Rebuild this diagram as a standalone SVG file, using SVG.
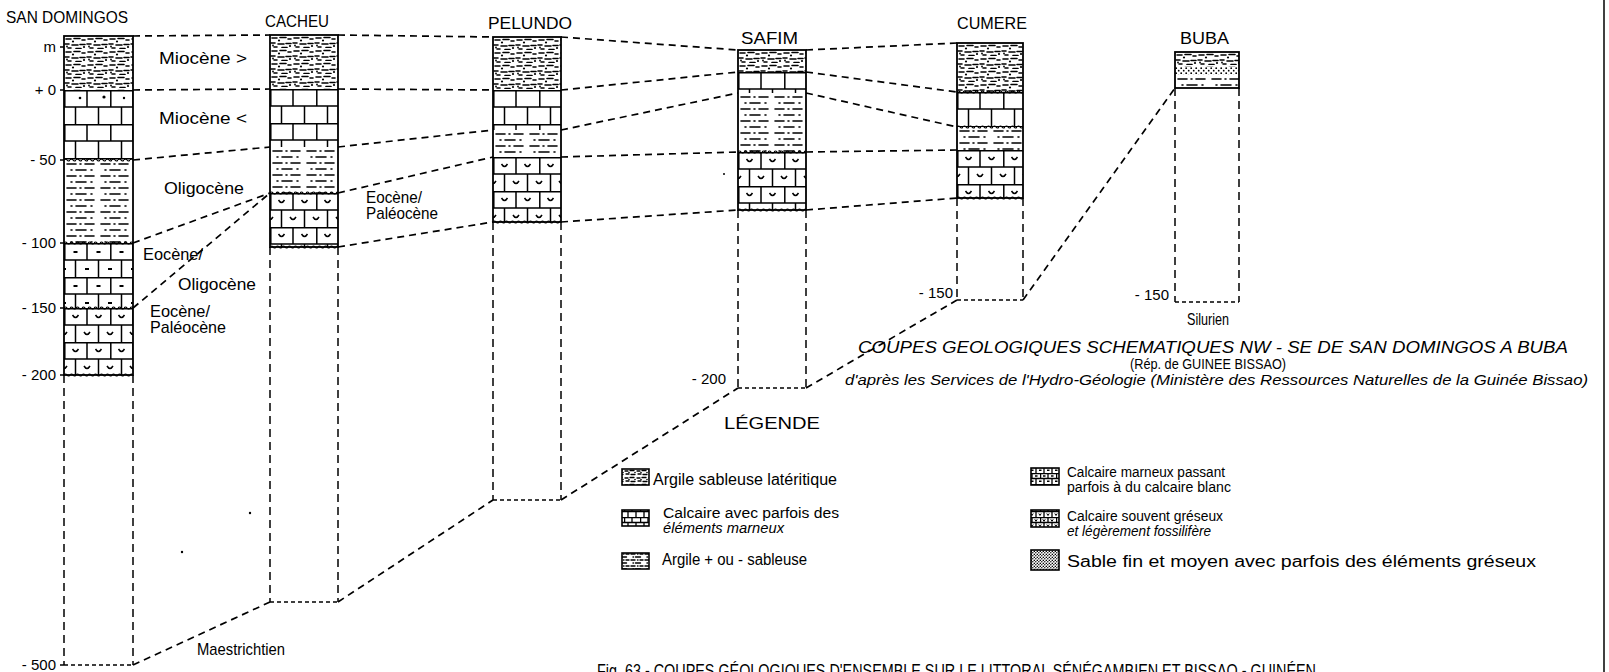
<svg xmlns="http://www.w3.org/2000/svg" width="1609" height="672" viewBox="0 0 1609 672">
  <style>
    .t { font-family: "Liberation Sans", Arial, sans-serif; fill: #000; }
    .h { font-size: 17px; }
    .lab { font-size: 17px; }
    .tk { font-size: 15px; text-anchor: end; }
    .lg { font-size: 16px; }
    .lg2 { font-size: 14px; }
    .it { font-style: italic; }
    .box { fill: none; stroke: #000; stroke-width: 1.8; }
    .ibox { fill: none; stroke: #000; stroke-width: 1.6; }
    .ln { fill: none; stroke: #000; stroke-width: 1.5; }
    .dl { fill: none; stroke: #000; stroke-width: 1.7; stroke-dasharray: 7 5; }
    .ext { fill: none; stroke: #000; stroke-width: 1.5; stroke-dasharray: 8 5; }
    .bot { fill: none; stroke: #000; stroke-width: 1.5; stroke-dasharray: 4 3; }
  </style>
  <defs>
    <!-- argile sableuse latéritique -->
    <pattern id="lat" width="22" height="13" patternUnits="userSpaceOnUse">
      <path d="M2,3h5M10,2.5h6M18,4h3M1,8h4M8,9h6M16,8.5h5M4,12h3M12,12.5h5" stroke="#000" stroke-width="1.6" stroke-linecap="round" fill="none"/>
      <circle cx="9" cy="5.5" r="1.1"/><circle cx="20" cy="11" r="1.1"/><circle cx="3" cy="10.5" r="0.9"/>
    </pattern>
    <!-- calcaire -->
    <pattern id="calc" width="46" height="34" patternUnits="userSpaceOnUse">
      <path d="M0,0.8H46M0,17H46M0.8,0V17M23,0V17M11.5,17V34M34.5,17V34" stroke="#000" stroke-width="1.5" fill="none"/>
    </pattern>
    <!-- calcaire marneux -->
    <pattern id="marn" width="46" height="34" patternUnits="userSpaceOnUse">
      <path d="M0,0.8H46M0,17H46M0.8,0V17M23,0V17M11.5,17V34M34.5,17V34" stroke="#000" stroke-width="1.5" fill="none"/>
      <path d="M9.5,9h4M32.5,9h4M-2,26h4M21,26h4M44,26h4" stroke="#000" stroke-width="2.2" fill="none"/>
    </pattern>
    <!-- calcaire gréseux fossilifère -->
    <pattern id="gres" width="46" height="34" patternUnits="userSpaceOnUse">
      <path d="M0,0.8H46M0,17H46M0.8,0V17M23,0V17M11.5,17V34M34.5,17V34" stroke="#000" stroke-width="1.5" fill="none"/>
      <path d="M8.5,7q3,5 6,0M31.5,7q3,5 6,0M-3,24q3,5 6,0M20,24q3,5 6,0M43,24q3,5 6,0" stroke="#000" stroke-width="1.5" fill="none"/>
    </pattern>
    <!-- argile + ou - sableuse -->
    <pattern id="arg" width="34" height="12" patternUnits="userSpaceOnUse">
      <path d="M3,4h9M16,4h1M21,4h9M7,10h1M12,10h10M27,10h1" stroke="#000" stroke-width="1.6" stroke-linecap="round" fill="none"/>
    </pattern>
    <!-- sable fin et moyen -->
    <pattern id="sab" width="5" height="5" patternUnits="userSpaceOnUse">
      <circle cx="1.2" cy="1.2" r="0.9"/><circle cx="3.7" cy="3.7" r="0.9"/>
    </pattern>
    <!-- limite ondulée -->
    <pattern id="wave" width="6" height="4" patternUnits="userSpaceOnUse">
      <path d="M0,2q1.5,-2 3,0t3,0" stroke="#000" stroke-width="1.2" fill="none"/>
    </pattern>

    <!-- small versions for the legend swatches -->
    <pattern id="lat-s" width="12" height="7" patternUnits="userSpaceOnUse">
      <path d="M1,2h3M6,1.5h4M2,5h3M7,5.5h4" stroke="#000" stroke-width="1.3" stroke-linecap="round" fill="none"/>
      <circle cx="5" cy="3.5" r="0.8"/><circle cx="11" cy="3.5" r="0.8"/>
    </pattern>
    <pattern id="calc-s" width="16" height="11" patternUnits="userSpaceOnUse">
      <path d="M0,0.6H16M0,5.5H16M0.6,0V5.5M8,0V5.5M4,5.5V11M12,5.5V11" stroke="#000" stroke-width="1.3" fill="none"/>
    </pattern>
    <pattern id="marn-s" width="16" height="11" patternUnits="userSpaceOnUse">
      <path d="M0,0.6H16M0,5.5H16M0.6,0V5.5M8,0V5.5M4,5.5V11M12,5.5V11" stroke="#000" stroke-width="1.3" fill="none"/>
      <path d="M3,3h2.5M11,3h2.5M-1,8.3h2.5M7,8.3h2.5M15,8.3h2.5" stroke="#000" stroke-width="1.6" fill="none"/>
    </pattern>
    <pattern id="gres-s" width="16" height="11" patternUnits="userSpaceOnUse">
      <path d="M0,0.6H16M0,5.5H16M0.6,0V5.5M8,0V5.5M4,5.5V11M12,5.5V11" stroke="#000" stroke-width="1.3" fill="none"/>
      <path d="M2.8,2.3l1.2,2l1.2,-2M10.8,2.3l1.2,2l1.2,-2M-1.2,7.5l1.2,2l1.2,-2M6.8,7.5l1.2,2l1.2,-2M14.8,7.5l1.2,2l1.2,-2" stroke="#000" stroke-width="1" fill="none"/>
    </pattern>
    <pattern id="arg-s" width="14" height="6" patternUnits="userSpaceOnUse">
      <path d="M1,2h4M7.5,2h0.5M10,2h3M3,5h0.5M5.5,5h5" stroke="#000" stroke-width="1.4" stroke-linecap="round" fill="none"/>
    </pattern>
    <pattern id="sab-s" width="3" height="3" patternUnits="userSpaceOnUse">
      <circle cx="0.8" cy="0.8" r="0.75"/><circle cx="2.3" cy="2.3" r="0.75"/>
    </pattern>
  </defs>

  <!-- correlation lines -->
  <g id="connectors">
    <path class="dl" d="M133,36L270,35M338,35L493,37M561,37L738,50M806,50L957,43"/>
    <path class="dl" d="M133,90L270,89M338,89L493,90M561,90L738,72M806,72L957,92"/>
    <path class="dl" d="M133,160L270,147M338,147L493,130M561,130L738,93M806,93L957,127"/>
    <path class="dl" d="M133,243L270,193M133,308L270,193M338,193L493,157M561,157L738,152M806,152L957,150"/>
    <path class="dl" d="M338,247L493,222M561,222L738,210M806,210L957,198"/>
    <path class="dl" d="M133,665L270,602M338,602L493,500M561,500L738,388M806,388L957,300M1023,300L1175,88"/>
  </g>

  <g id="col-san-domingos">
    <rect transform="translate(64,36)" width="69" height="54" fill="url(#lat)"/>
    <rect transform="translate(64,90)" width="69" height="70" fill="url(#calc)"/>
    <rect transform="translate(64,160)" width="69" height="83" fill="url(#arg)"/>
    <rect transform="translate(64,243)" width="69" height="65" fill="url(#marn)"/>
    <rect transform="translate(64,308)" width="69" height="67" fill="url(#gres)"/>
    <rect transform="translate(64,158)" width="69" height="4" fill="url(#wave)"/>
    <rect transform="translate(64,241)" width="69" height="4" fill="url(#wave)"/>
    <rect transform="translate(64,306)" width="69" height="4" fill="url(#wave)"/>
    <rect transform="translate(64,373)" width="69" height="4" fill="url(#wave)"/>
    <circle cx="80" cy="98" r="1.3"/><circle cx="104" cy="97" r="1.6"/><circle cx="124" cy="98" r="1.2"/>
    <rect class="box" x="64" y="36" width="69" height="339"/>
    <path class="ext" d="M64,375V665M133,375V665"/>
    <path class="bot" d="M64,665H133"/>
    <path class="ln" d="M60,47H64M60,90H64M60,160H64M60,243H64M60,308H64M60,375H64M60,665H64"/>
    <text class="t h" x="6" y="23" textLength="122" lengthAdjust="spacingAndGlyphs">SAN DOMINGOS</text>
    <text class="t tk" x="56" y="52">m</text>
    <text class="t tk" x="56" y="95">+ 0</text>
    <text class="t tk" x="56" y="165">- 50</text>
    <text class="t tk" x="56" y="248">- 100</text>
    <text class="t tk" x="56" y="313">- 150</text>
    <text class="t tk" x="56" y="380">- 200</text>
    <text class="t tk" x="56" y="670">- 500</text>
  </g>

  <g id="col-cacheu">
    <rect transform="translate(270,35)" width="68" height="54" fill="url(#lat)"/>
    <rect transform="translate(270,89)" width="68" height="58" fill="url(#calc)"/>
    <rect transform="translate(270,147)" width="68" height="46" fill="url(#arg)"/>
    <rect transform="translate(270,193)" width="68" height="54" fill="url(#gres)"/>
    <rect transform="translate(270,191)" width="68" height="4" fill="url(#wave)"/>
    <rect transform="translate(270,245)" width="68" height="4" fill="url(#wave)"/>
    <rect class="box" x="270" y="35" width="68" height="212"/>
    <path class="ext" d="M270,247V602M338,247V602"/>
    <path class="bot" d="M270,602H338"/>
    <text class="t h" x="265" y="27" textLength="64" lengthAdjust="spacingAndGlyphs">CACHEU</text>
  </g>

  <g id="col-pelundo">
    <rect transform="translate(493,37)" width="68" height="53" fill="url(#lat)"/>
    <rect transform="translate(493,90)" width="68" height="40" fill="url(#calc)"/>
    <rect transform="translate(493,130)" width="68" height="27" fill="url(#arg)"/>
    <rect transform="translate(493,157)" width="68" height="65" fill="url(#gres)"/>
    <rect transform="translate(493,220)" width="68" height="4" fill="url(#wave)"/>
    <rect class="box" x="493" y="37" width="68" height="185"/>
    <path class="ext" d="M493,222V500M561,222V500"/>
    <path class="bot" d="M493,500H561"/>
    <text class="t h" x="488" y="29" textLength="84" lengthAdjust="spacingAndGlyphs">PELUNDO</text>
  </g>

  <g id="col-safim">
    <rect transform="translate(738,50)" width="68" height="22" fill="url(#lat)"/>
    <rect transform="translate(738,72)" width="68" height="21" fill="url(#calc)"/>
    <rect transform="translate(738,93)" width="68" height="59" fill="url(#arg)"/>
    <rect transform="translate(738,152)" width="68" height="58" fill="url(#gres)"/>
    <rect transform="translate(738,150)" width="68" height="4" fill="url(#wave)"/>
    <rect transform="translate(738,208)" width="68" height="4" fill="url(#wave)"/>
    <rect class="box" x="738" y="50" width="68" height="160"/>
    <path class="ext" d="M738,210V388M806,210V388"/>
    <path class="bot" d="M738,388H806"/>
    <text class="t h" x="741" y="44" textLength="57" lengthAdjust="spacingAndGlyphs">SAFIM</text>
    <text class="t tk" x="726" y="384">- 200</text>
  </g>

  <g id="col-cumere">
    <rect transform="translate(957,43)" width="66" height="49" fill="url(#lat)"/>
    <rect transform="translate(957,92)" width="66" height="35" fill="url(#calc)"/>
    <rect transform="translate(957,127)" width="66" height="23" fill="url(#arg)"/>
    <rect transform="translate(957,150)" width="66" height="48" fill="url(#gres)"/>
    <rect transform="translate(957,90)" width="66" height="4" fill="url(#wave)"/>
    <rect transform="translate(957,125)" width="66" height="4" fill="url(#wave)"/>
    <rect transform="translate(957,196)" width="66" height="4" fill="url(#wave)"/>
    <rect class="box" x="957" y="43" width="66" height="155"/>
    <path class="ext" d="M957,198V300M1023,198V300"/>
    <path class="bot" d="M957,300H1023"/>
    <text class="t h" x="957" y="29" textLength="70" lengthAdjust="spacingAndGlyphs">CUMERE</text>
    <text class="t tk" x="953" y="298">- 150</text>
  </g>

  <g id="col-buba">
    <rect transform="translate(1175,52)" width="64" height="15" fill="url(#lat)"/>
    <rect transform="translate(1175,67)" width="64" height="8" fill="url(#sab)"/>
    <rect transform="translate(1175,75)" width="64" height="13" fill="url(#arg)"/>
    <rect class="box" x="1175" y="52" width="64" height="36"/>
    <path class="ext" d="M1175,88V302M1239,88V302"/>
    <path class="bot" d="M1175,302H1239"/>
    <text class="t h" x="1180" y="44" textLength="49" lengthAdjust="spacingAndGlyphs">BUBA</text>
    <text class="t tk" x="1169" y="300">- 150</text>
    <text class="t lab" x="1187" y="325" textLength="42" lengthAdjust="spacingAndGlyphs">Silurien</text>
  </g>

  <g id="stage-labels">
    <text class="t lab" x="159" y="64" textLength="88" lengthAdjust="spacingAndGlyphs">Miocène &gt;</text>
    <text class="t lab" x="159" y="124" textLength="88" lengthAdjust="spacingAndGlyphs">Miocène &lt;</text>
    <text class="t lab" x="164" y="194" textLength="80" lengthAdjust="spacingAndGlyphs">Oligocène</text>
    <text class="t lab" x="143" y="260" textLength="60" lengthAdjust="spacingAndGlyphs">Eocène/</text>
    <text class="t lab" x="178" y="290" textLength="78" lengthAdjust="spacingAndGlyphs">Oligocène</text>
    <text class="t lab" x="150" y="317" textLength="60" lengthAdjust="spacingAndGlyphs">Eocène/</text>
    <text class="t lab" x="150" y="333" textLength="76" lengthAdjust="spacingAndGlyphs">Paléocène</text>
    <text class="t lab" x="366" y="203" textLength="56" lengthAdjust="spacingAndGlyphs">Eocène/</text>
    <text class="t lab" x="366" y="219" textLength="72" lengthAdjust="spacingAndGlyphs">Paléocène</text>
    <text class="t lab" x="197" y="655" textLength="88" lengthAdjust="spacingAndGlyphs">Maestrichtien</text>
  </g>

  <g id="title-block">
    <text class="t it" font-size="17" x="858" y="353" textLength="710" lengthAdjust="spacingAndGlyphs">COUPES GEOLOGIQUES SCHEMATIQUES NW - SE DE SAN DOMINGOS A BUBA</text>
    <text class="t" font-size="15" x="1130" y="369" textLength="156" lengthAdjust="spacingAndGlyphs">(Rép. de GUINEE BISSAO)</text>
    <text class="t it" font-size="15" x="845" y="385" textLength="743" lengthAdjust="spacingAndGlyphs">d'après les Services de l'Hydro-Géologie (Ministère des Ressources Naturelles de la Guinée Bissao)</text>
  </g>

  <g id="legend">
    <text class="t" font-size="17" x="724" y="429" textLength="96" lengthAdjust="spacingAndGlyphs">LÉGENDE</text>
    <rect x="622" y="469" width="27" height="16" fill="url(#lat-s)"/>
    <rect class="ibox" x="622" y="469" width="27" height="16"/>
    <rect x="622" y="510" width="27" height="16" fill="url(#calc-s)"/>
    <rect class="ibox" x="622" y="510" width="27" height="16"/>
    <rect x="622" y="553" width="27" height="16" fill="url(#arg-s)"/>
    <rect class="ibox" x="622" y="553" width="27" height="16"/>
    <rect x="1031" y="468" width="28" height="17" fill="url(#marn-s)"/>
    <rect class="ibox" x="1031" y="468" width="28" height="17"/>
    <rect x="1031" y="510" width="28" height="17" fill="url(#gres-s)"/>
    <rect class="ibox" x="1031" y="510" width="28" height="17"/>
    <rect x="1031" y="550" width="28" height="20" fill="url(#sab-s)"/>
    <rect class="ibox" x="1031" y="550" width="28" height="20" stroke-width="0.8"/>
    <text class="t lg" x="653" y="485" textLength="184" lengthAdjust="spacingAndGlyphs">Argile sableuse latéritique</text>
    <text class="t lg2" x="663" y="518" textLength="176" lengthAdjust="spacingAndGlyphs">Calcaire avec parfois des</text>
    <text class="t lg2 it" x="663" y="532.5" textLength="121" lengthAdjust="spacingAndGlyphs">éléments marneux</text>
    <text class="t lg" x="662" y="565" textLength="145" lengthAdjust="spacingAndGlyphs">Argile + ou - sableuse</text>
    <text class="t lg2" x="1067" y="477" textLength="158" lengthAdjust="spacingAndGlyphs">Calcaire marneux passant</text>
    <text class="t lg2" x="1067" y="491.5" textLength="164" lengthAdjust="spacingAndGlyphs">parfois à du calcaire blanc</text>
    <text class="t lg2" x="1067" y="521" textLength="156" lengthAdjust="spacingAndGlyphs">Calcaire souvent gréseux</text>
    <text class="t lg2 it" x="1067" y="535.5" textLength="144" lengthAdjust="spacingAndGlyphs">et légèrement fossilifère</text>
    <text class="t lg" x="1067" y="567" textLength="469" lengthAdjust="spacingAndGlyphs">Sable fin et moyen avec parfois des éléments gréseux</text>
  </g>

  <g id="caption">
    <text class="t" font-size="18" x="597" y="677" textLength="719" lengthAdjust="spacingAndGlyphs">Fig. 63 - COUPES GÉOLOGIQUES D'ENSEMBLE SUR LE LITTORAL SÉNÉGAMBIEN ET BISSAO - GUINÉEN</text>
  </g>

  <g id="frame">
    <path class="ln" d="M1604,0V672"/>
    <circle cx="250" cy="513" r="1.2"/>
    <circle cx="182" cy="552" r="1.2"/>
    <circle cx="724" cy="174" r="1"/>
  </g>
</svg>
